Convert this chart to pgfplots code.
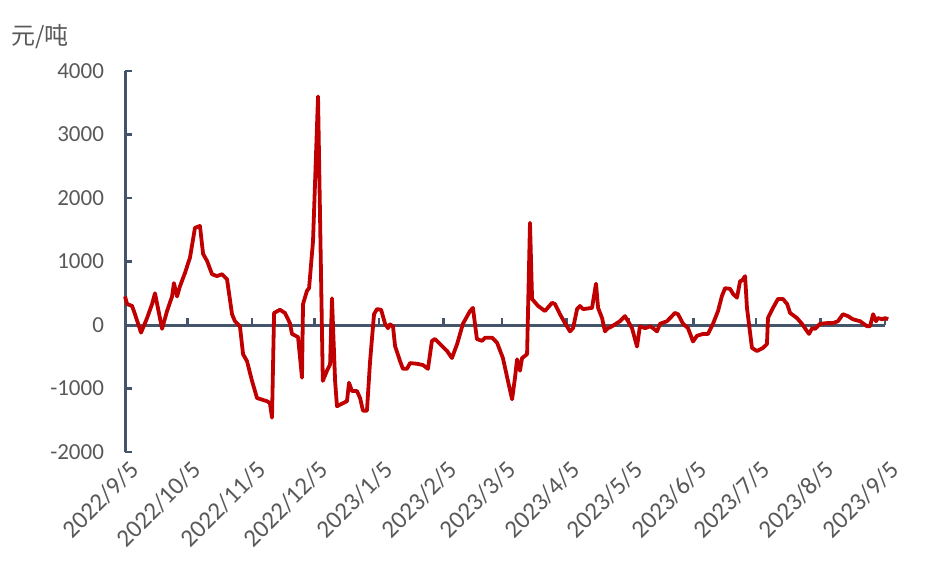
\documentclass[border=0pt]{standalone}
\usepackage{pgfplots}
\pgfplotsset{compat=1.18}
\usepackage{fontspec}
\setmainfont{Carlito}
\newfontfamily\cjk{Noto Sans CJK SC}
\definecolor{axisc}{RGB}{68,84,106}
\definecolor{linec}{RGB}{192,0,0}
\definecolor{txt}{RGB}{89,89,89}
\begin{document}
\begin{tikzpicture}
\useasboundingbox (-62.5pt,-56pt) rectangle (407.5pt,226pt);
\begin{axis}[
  at={(0pt,0pt)}, anchor=south west,
  scale only axis, width=380pt, height=190.5pt,
  xmin=0, xmax=365, ymin=-2000, ymax=4000,
  clip=false,
  axis x line=middle, axis y line=left,
  hide obscured x ticks=false,
  axis line style={-, draw=axisc, line width=1.5pt},
  xtick={0,30,61,91,122,153,181,212,242,273,303,334,365},
  xticklabels={2022/9/5,2022/10/5,2022/11/5,2022/12/5,2023/1/5,2023/2/5,2023/3/5,2023/4/5,2023/5/5,2023/6/5,2023/7/5,2023/8/5,2023/9/5},
  ytick={-2000,-1000,0,1000,2000,3000,4000},
  yticklabels={-2000,-1000,0,1000,2000,3000,4000},
  tick align=inside,
  major tick length=3.5pt,
  tick style={draw=axisc, line width=1.2pt},
  xticklabel shift=67pt,
  xticklabel style={rotate=45, anchor=north east, font=\fontsize{12.5}{14}\selectfont, text=txt, inner sep=1pt, xshift=2pt},
  yticklabel style={font=\fontsize{11.5}{13}\selectfont, text=txt, xshift=-7pt},
]
\addplot[linec, line width=1.9pt, line join=round, no marks] table {
x y
0 450
1 330
3.4 300
4.8 170
7.7 -120
10.6 110
13 330
14.4 500
15.8 270
17.8 -60
20.2 220
22.6 450
23.5 660
25 450
26.4 610
28.8 820
31.2 1060
33.6 1530
36 1560
37.5 1120
39.4 1010
41.8 800
44.2 770
46.6 800
49 720
51.4 170
52.8 60
55.2 -20
56.7 -460
58.6 -570
61 -880
63.4 -1150
68.2 -1200
69.6 -1230
70.6 -1460
71.6 190
74.4 240
76.8 190
79.2 30
80.2 -140
83.1 -190
85 -830
85.5 330
87.4 540
88.4 580
90.3 1320
92.7 3600
95 -880
97 -720
98.5 -620
99.4 420
100.9 -880
101.8 -1280
104.7 -1230
106.6 -1200
107.6 -910
109 -1040
111.4 -1040
112.9 -1150
114.3 -1350
116.2 -1350
117.7 -570
119.6 170
121 250
123 240
124.9 20
126.3 -50
127.3 10
128.7 -20
129.7 -330
132.1 -570
133.5 -690
135.4 -690
136.9 -600
140.2 -610
143.1 -630
145.5 -690
147.4 -250
148.9 -220
151.3 -300
154.7 -410
157 -520
159.5 -300
162.3 20
165.7 220
167.1 270
169 -220
171.5 -250
172.9 -200
176.3 -200
178.7 -280
181.5 -520
183.9 -880
185.9 -1170
187.3 -830
188.3 -540
189.7 -720
190.7 -520
193.1 -460
194.5 1610
195.5 410
198.4 300
201.7 220
205.1 350
206.5 330
208.9 170
211.3 30
213.7 -100
215.2 -50
217.1 250
218.5 300
220 250
224.3 270
226.2 650
227.2 270
229.1 110
230.5 -100
232 -50
233.9 -20
237.7 60
240.1 140
241.6 60
243.5 -50
245.9 -340
247.3 -20
249.8 -50
252.2 -20
253.6 -50
255.5 -100
257 20
260.3 60
261.8 110
264.1 190
265.6 170
268 20
270.4 -50
272.8 -260
274.7 -170
277.6 -140
280 -140
282.4 20
284.8 220
286.7 460
288.2 580
290.6 570
292 490
293.9 430
295.4 690
296.3 700
297.8 770
298.7 270
301.1 -360
303.5 -410
306.4 -360
308.3 -300
308.8 110
311.2 270
313.6 410
316 410
318 330
319.4 190
322.7 110
325.1 20
327.6 -100
328.5 -140
330 -50
331.4 -60
333.8 20
337.2 30
340 30
342.4 60
344.8 170
347.2 140
349.6 90
353 60
356.4 -20
357.8 -20
359.3 170
360.7 60
361.6 110
363.6 90
365 110
366.5 90
};
\end{axis}
\node[text=txt, font=\cjk\fontsize{12}{14}\selectfont, inner sep=0pt] at (-42.5pt,207.5pt) {元/吨};
\end{tikzpicture}
\end{document}
